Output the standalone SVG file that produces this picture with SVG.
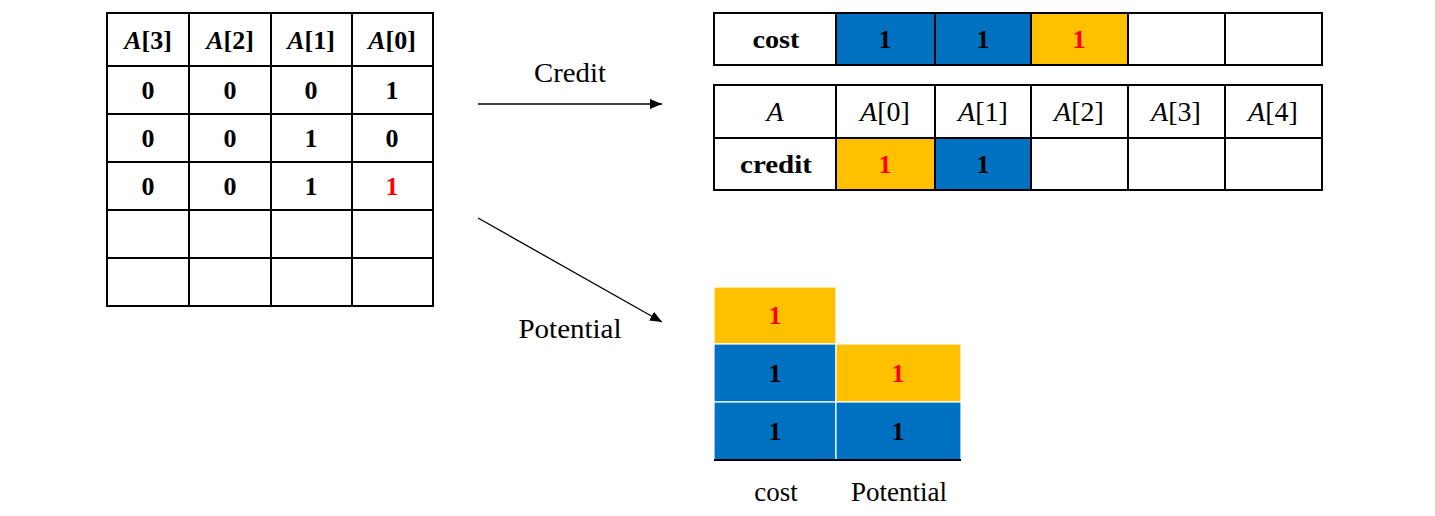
<svg xmlns="http://www.w3.org/2000/svg" width="1435" height="516" viewBox="0 0 1435 516">
<style>
text{font-family:"Liberation Serif","Times New Roman",serif;font-size:26px;text-anchor:middle;fill:#000}
.b{font-weight:bold}
.r{fill:#FF0000}
.g{fill:none;stroke:#000;stroke-width:2}
.blue{fill:#0070C0}
.yel{fill:#FFC000}
.pc{stroke:#FFFFFF;stroke-width:1.2}
.lbl{font-size:27px}
.h{font-size:28px}
</style>
<defs>
<marker id="ah" viewBox="0 0 12 10" refX="12" refY="5" markerWidth="12" markerHeight="10" markerUnits="userSpaceOnUse" orient="auto">
<path d="M0,0 L12,5 L0,10 z" fill="#000"/>
</marker>
</defs>
<rect width="1435" height="516" fill="#fff"/>

<g id="bit-table">
<rect x="107" y="13" width="326" height="293" fill="#fff" class="g"/>
<path class="g" d="M189,13V306M271,13V306M352,13V306M107,66H433M107,114H433M107,162H433M107,210H433M107,258H433"/>
<text class="b" x="148" y="49"><tspan font-style="italic">A</tspan>[3]</text>
<text class="b" x="230" y="49"><tspan font-style="italic">A</tspan>[2]</text>
<text class="b" x="311" y="49"><tspan font-style="italic">A</tspan>[1]</text>
<text class="b" x="392" y="49"><tspan font-style="italic">A</tspan>[0]</text>
<text class="b" x="148" y="99">0</text><text class="b" x="230" y="99">0</text><text class="b" x="311" y="99">0</text><text class="b" x="392" y="99">1</text>
<text class="b" x="148" y="147">0</text><text class="b" x="230" y="147">0</text><text class="b" x="311" y="147">1</text><text class="b" x="392" y="147">0</text>
<text class="b" x="148" y="195">0</text><text class="b" x="230" y="195">0</text><text class="b" x="311" y="195">1</text><text class="b r" x="392" y="195">1</text>
</g>

<g id="cost-table">
<rect x="714" y="13" width="608" height="52" fill="#fff"/>
<rect x="836" y="13" width="99" height="52" class="blue"/>
<rect x="935" y="13" width="96" height="52" class="blue"/>
<rect x="1031" y="13" width="97" height="52" class="yel"/>
<rect x="714" y="13" width="608" height="52" class="g"/>
<path class="g" d="M836,13V65M935,13V65M1031,13V65M1128,13V65M1225,13V65"/>
<text class="b" x="776" y="48" textLength="47" lengthAdjust="spacingAndGlyphs">cost</text>
<text class="b" x="885" y="48">1</text>
<text class="b" x="983" y="48">1</text>
<text class="b r" x="1079" y="48">1</text>
</g>

<g id="credit-table">
<rect x="714" y="85" width="608" height="105" fill="#fff"/>
<rect x="836" y="138" width="99" height="52" class="yel"/>
<rect x="935" y="138" width="96" height="52" class="blue"/>
<rect x="714" y="85" width="608" height="105" class="g"/>
<path class="g" d="M836,85V190M935,85V190M1031,85V190M1128,85V190M1225,85V190M714,138H1322"/>
<text class="h" x="775" y="121" font-style="italic">A</text>
<text class="h" x="885" y="121"><tspan font-style="italic">A</tspan>[0]</text>
<text class="h" x="983" y="121"><tspan font-style="italic">A</tspan>[1]</text>
<text class="h" x="1079" y="121"><tspan font-style="italic">A</tspan>[2]</text>
<text class="h" x="1176" y="121"><tspan font-style="italic">A</tspan>[3]</text>
<text class="h" x="1273" y="121"><tspan font-style="italic">A</tspan>[4]</text>
<text class="b" x="776" y="173" textLength="72" lengthAdjust="spacingAndGlyphs">credit</text>
<text class="b r" x="885" y="173">1</text>
<text class="b" x="983" y="173">1</text>
</g>

<g id="potential-chart">
<rect x="714" y="287" width="122" height="57" class="yel pc"/>
<rect x="714" y="344" width="122" height="58" class="blue pc"/>
<rect x="714" y="402" width="122" height="58" class="blue pc"/>
<rect x="836" y="344" width="125" height="58" class="yel pc"/>
<rect x="836" y="402" width="125" height="58" class="blue pc"/>
<line x1="714" y1="460" x2="961" y2="460" stroke="#000" stroke-width="2"/>
<text class="b r" x="775" y="324">1</text>
<text class="b" x="775" y="382">1</text>
<text class="b" x="775" y="440">1</text>
<text class="b r" x="898" y="382">1</text>
<text class="b" x="898" y="440">1</text>
<text class="lbl" x="776" y="501">cost</text>
<text class="lbl" x="899" y="501">Potential</text>
</g>

<g id="connectors">
<line x1="478" y1="104" x2="662" y2="104" stroke="#000" stroke-width="1.3" marker-end="url(#ah)"/>
<line x1="478" y1="218" x2="662" y2="322" stroke="#000" stroke-width="1.3" marker-end="url(#ah)"/>
<text class="lbl" x="570" y="82" textLength="72" lengthAdjust="spacingAndGlyphs">Credit</text>
<text class="lbl" x="570" y="338" textLength="103" lengthAdjust="spacingAndGlyphs">Potential</text>
</g>
</svg>
